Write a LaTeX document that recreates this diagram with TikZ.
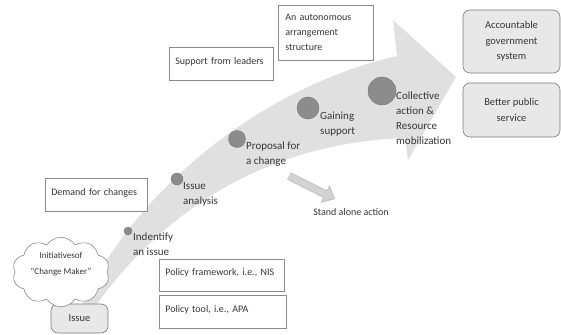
\documentclass[tikz,border=0pt]{standalone}
\usepackage{fontspec}
\setmainfont{Carlito}
\usetikzlibrary{shapes.symbols,arrows.meta}
\definecolor{txt}{HTML}{363636}
\definecolor{bandc}{HTML}{E0E0E0}
\definecolor{dotc}{HTML}{8C8C8C}
\definecolor{boxline}{HTML}{8A8A8A}
\definecolor{rfill}{HTML}{E8E8E8}
\definecolor{sac}{HTML}{D2D2D2}
\begin{document}
\begin{tikzpicture}[x=1pt,y=-1pt,
 lbl/.style={anchor=north west, inner sep=0pt, align=left, text=txt, font=\fontsize{11}{15}\selectfont},
 dotn/.style={circle, fill=dotc, draw=dotc!85!black, line width=0.4pt, inner sep=0pt},
 box/.style={draw=boxline, fill=white, line width=0.6pt, rectangle, align=left, text=txt, font=\fontsize{10}{15}\selectfont, anchor=north west, inner ysep=0pt},
 sbox/.style={box, text height=7pt, text depth=6pt},
 rbox/.style={draw=boxline!90!black, fill=rfill, rounded corners=7pt, line width=0.6pt, align=center, text=txt, font=\fontsize{10.5}{15.5}\selectfont, inner sep=0pt},
]
\fill[white] (0,0) rectangle (561,334);
\useasboundingbox (0,0) rectangle (561,334);
% big curved arrow
\fill[bandc] (82,305) .. controls (130,200) and (250,90) .. (397,56) -- (393,20) -- (456,77) -- (408,160) -- (405,138) .. controls (290,142) and (180,190) .. (96,305) -- cycle;
% stand alone arrow
\coordinate (sa1) at (289,176);
\coordinate (sa2) at (335,199);
\draw[draw=sac!85!black, line width=8pt, -{Triangle[width=18.5pt,length=11pt]}] (sa1) -- (sa2);
\draw[draw=sac, line width=6.8pt, shorten >=1pt, -{Triangle[width=16pt,length=9.5pt]}] (sa1) -- (sa2);
\node[font=\fontsize{10}{12}\selectfont, text=txt] (sat) at (351,212) {Stand alone action};
% dots
\node[dotn, minimum size=8pt] (d1) at (128,231) {};
\node[dotn, minimum size=12pt] (d2) at (177,179) {};
\node[dotn, minimum size=17pt] (d3) at (237,139) {};
\node[dotn, minimum size=22pt] (d4) at (308,108) {};
\node[dotn, minimum size=28pt] (d5) at (382,91) {};
% labels
\node[lbl] (l1) at (133,233) {Indentify\\an issue};
\node[lbl] (l2) at (183,182) {Issue\\analysis};
\node[lbl] (l3) at (246,142) {Proposal for\\a change};
\node[lbl] (l4) at (320,112) {Gaining\\support};
\node[lbl] (l5) at (396,92) {Collective\\action \&\\Resource\\mobilization};
% boxes
\node[box, inner xsep=7pt, text width=81pt, minimum height=55pt] (auto) at (278,5) {An autonomous\\arrangement\\structure};
\node[sbox, inner xsep=6pt, text width=92pt, minimum height=33pt] (lead) at (169,47) {Support from leaders};
\node[sbox, inner xsep=6pt, text width=90pt, minimum height=33pt] (demand) at (45,178) {Demand for changes};
\node[sbox, inner xsep=6pt, text width=113pt, minimum height=32pt] (nis) at (159,259) {Policy framework, i.e., NIS};
\node[sbox, inner xsep=6pt, text width=115pt, minimum height=33pt] (apa) at (159,295) {Policy tool, i.e., APA};
% rounded boxes
\node[rbox, minimum width=97pt, minimum height=63pt] (acc) at (511.5,41.5) {Accountable\\government\\system};
\node[rbox, minimum width=97pt, minimum height=54pt] (better) at (511.5,110) {Better public\\service};
\node[rbox, minimum width=57pt, minimum height=29pt] (issue) at (79.5,318.5) {Issue};
% cloud
\node[cloud, cloud puffs=10, cloud puff arc=115, aspect=1.6, draw=boxline, fill=white, line width=0.6pt, minimum width=97pt, minimum height=60pt, align=center, font=\fontsize{9}{16}\selectfont, text=txt, inner sep=0pt, text depth=18pt] (cloud) at (61,272) {Initiativesof\\``Change Maker''};
\end{tikzpicture}
\end{document}
